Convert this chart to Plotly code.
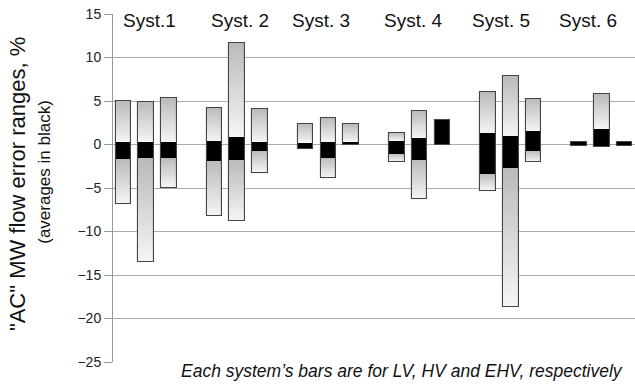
import plotly.graph_objects as go

# ---- data ----
systems = ["Syst.1", "Syst. 2", "Syst. 3", "Syst. 4", "Syst. 5", "Syst. 6"]
voltages = ["LV", "HV", "EHV"]

# per system: LV, HV, EHV
range_max = [5.0, 4.9, 5.4,   4.2, 11.7, 4.1,   2.4, 3.0, 2.3,   1.3, 3.8, 2.85,   6.0, 7.85, 5.25,   0.25, 5.8, 0.25]
range_min = [-6.85, -13.55, -5.0,   -8.2, -8.8, -3.3,   -0.55, -3.9, -0.1,   -2.0, -6.3, -0.1,   -5.3, -18.65, -2.0,   -0.2, -0.25, -0.15]
avg_hi = [0.25, 0.3, 0.3,   0.35, 0.85, 0.25,   0.15, 0.25, 0.25,   0.35, 0.7, 2.85,   1.3, 1.0, 1.5,   0.25, 1.75, 0.25]
avg_lo = [-1.7, -1.6, -1.55,   -1.9, -1.8, -0.75,   -0.45, -1.55, -0.1,   -1.05, -1.75, -0.1,   -3.4, -2.65, -0.75,   -0.2, -0.25, -0.15]

y_ticks = [-25, -20, -15, -10, -5, 0, 5, 10, 15]

# ---- layout helpers ----
n_v = len(voltages)
slot = []
for gi, _ in enumerate(systems):
    for vi, _ in enumerate(voltages):
        slot.append(gi * (n_v + 1) + vi)

FONT = "Liberation Sans, Arial, Helvetica, sans-serif"
BAR_W = 0.68
N = 28
top_rgb = (186, 186, 186)
bot_rgb = (245, 245, 245)


def mix(t):
    r = [round(a + (b - a) * t) for a, b in zip(top_rgb, bot_rgb)]
    return f"rgb({r[0]},{r[1]},{r[2]})"


fig = go.Figure()

# gradient slices for upper (avg_hi..max) and lower (min..avg_lo) gray parts
for j in range(N):
    xs, bases, hs = [], [], []
    for i in range(len(slot)):
        hu = (range_max[i] - avg_hi[i]) / N
        xs.append(slot[i]); bases.append(range_max[i] - (j + 1) * hu); hs.append(hu)
        hl = (avg_lo[i] - range_min[i]) / N
        xs.append(slot[i]); bases.append(avg_lo[i] - (j + 1) * hl); hs.append(hl)
    fig.add_trace(go.Bar(
        x=xs, y=hs, base=bases, width=BAR_W,
        marker=dict(color=mix((j + 0.5) / N), line=dict(width=0)),
        hoverinfo="skip", showlegend=False,
    ))

# black averages
fig.add_trace(go.Bar(
    x=slot, y=[h - l for h, l in zip(avg_hi, avg_lo)], base=avg_lo, width=BAR_W,
    marker=dict(color="black", line=dict(width=0)),
    showlegend=False, name="average",
))

# outlines of the full ranges
fig.add_trace(go.Bar(
    x=slot, y=[a - b for a, b in zip(range_max, range_min)], base=range_min, width=BAR_W,
    marker=dict(color="rgba(0,0,0,0)", line=dict(color="#444", width=1.1)),
    showlegend=False, hoverinfo="skip",
))

# system labels above each group
label_offsets = [0.13, 0.10, -0.33, -0.25, -0.43, -0.60]
for gi, name in enumerate(systems):
    fig.add_annotation(
        x=gi * (n_v + 1) + 1 + label_offsets[gi], y=0.982, xref="x", yref="paper",
        text=name, showarrow=False, xanchor="center", yanchor="middle",
        font=dict(family=FONT, size=19, color="#111"),
    )

# y-axis title (two lines, two sizes)
fig.add_annotation(
    x=-0.184, y=0.511, xref="paper", yref="paper", textangle=-90,
    text='"AC" MW flow error ranges, %', showarrow=False,
    xanchor="center", yanchor="middle",
    font=dict(family=FONT, size=22, color="#111"),
)
fig.add_annotation(
    x=-0.130, y=0.547, xref="paper", yref="paper", textangle=-90,
    text="(averages in black)", showarrow=False,
    xanchor="center", yanchor="middle",
    font=dict(family=FONT, size=17, color="#111"),
)

# bottom note
fig.add_annotation(
    x=0.981, y=-0.026, xref="paper", yref="paper",
    text="<i>Each system\u2019s bars are for LV, HV and EHV, respectively</i>",
    showarrow=False, xanchor="right", yanchor="middle",
    font=dict(family=FONT, size=17.5, color="#111"),
)

fig.update_layout(
    width=635, height=388,
    margin=dict(l=113, r=0, t=14, b=26),
    barmode="overlay", bargap=0,
    plot_bgcolor="white", paper_bgcolor="white",
    font=dict(family=FONT, color="#222"),
    xaxis=dict(range=[-0.45, (len(systems) - 1) * (n_v + 1) + n_v - 0.55],
               showticklabels=False, ticks="", showgrid=False, zeroline=False, showline=False),
    yaxis=dict(range=[y_ticks[0], y_ticks[-1]], tickvals=y_ticks,
               ticks="outside", ticklen=8, tickcolor="#999", tickwidth=1,
               showline=True, linecolor="#999", linewidth=1,
               showgrid=True, gridcolor="#ababab", gridwidth=1,
               zeroline=True, zerolinecolor="#ababab", zerolinewidth=1,
               tickfont=dict(family=FONT, size=14, color="#222")),
)

fig.write_html(
    "out.html",
    config={"displayModeBar": False},
    post_script="document.body.style.margin='0';document.body.style.overflow='hidden';",
)
